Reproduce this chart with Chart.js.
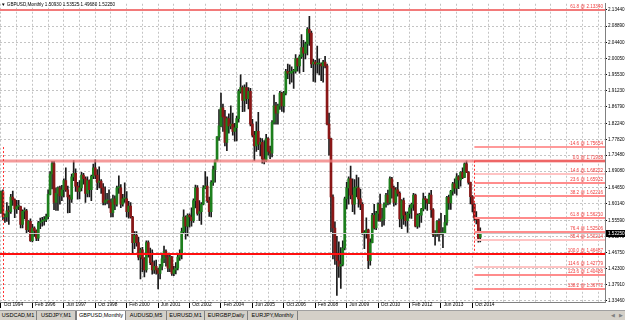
<!DOCTYPE html>
<html>
<head>
<meta charset="utf-8">
<title>GBPUSD,Monthly</title>
<script src="https://cdn.jsdelivr.net/npm/chart.js@4.4.1/dist/chart.umd.min.js"></script>
<style>
  body { margin: 0; background: #fff; width: 625px; height: 320px; overflow: hidden; font-family: "Liberation Sans", Arial, sans-serif; }
  #wrap { position: relative; width: 625px; height: 310px; }
  #tabs { position: relative; width: 625px; height: 10px; background: #d4d0c8; border-top: 1px solid #a0a0a0; box-sizing: border-box; }
  .tab { position: absolute; top: 0; height: 9px; line-height: 9px; text-align: center; font-size: 5.5px; color: #000; border-right: 1px solid #808080; box-sizing: border-box; white-space: nowrap; }
  .tab.on { background: #fff; border-left: 1px solid #808080; }
  .arr { position: absolute; top: 0; line-height: 9px; font-size: 5px; color: #808080; }
</style>
</head>
<body>
<div id="wrap"><canvas id="chart" width="625" height="310"></canvas></div>
<div id="tabs">
  <div class="tab" style="left:0;width:37px">USDCAD,M1</div>
  <div class="tab" style="left:37px;width:39px">USDJPY,M1</div>
  <div class="tab on" style="left:76px;width:50px">GBPUSD,Monthly</div>
  <div class="tab" style="left:126px;width:41px">AUDUSD,M5</div>
  <div class="tab" style="left:167px;width:38px">EURUSD,M1</div>
  <div class="tab" style="left:205px;width:43px">EURGBP,Daily</div>
  <div class="tab" style="left:248px;width:50px">EURJPY,Monthly</div>
  <div class="arr" style="left:611px">&#9664;</div>
  <div class="arr" style="left:619px">&#9654;</div>
</div>
<script>
// time axis: one label every 16 monthly bars, first bar = Oct 1994
const tickLabels = ['Oct 1994', 'Feb 1996', 'Jun 1997', 'Oct 1998', 'Feb 2000', 'Jun 2001', 'Oct 2002', 'Feb 2004',
    'Jun 2005', 'Oct 2006', 'Feb 2008', 'Jun 2009', 'Oct 2010', 'Feb 2012', 'Jun 2013', 'Oct 2014'];
const labelEvery = 16;
const gridEvery = 8;
const totalSlots = 308; // bars that fit in the window incl. the empty shift on the right

// price axis labels (right side)
const priceTicks = [2.13440, 2.08890, 2.04400, 2.00050, 1.95530, 1.91230, 1.86790, 1.82240, 1.77820, 1.73480,
    1.69080, 1.64650, 1.60140, 1.55590, 1.51170, 1.46750, 1.42300, 1.37910, 1.33460];

// monthly OHLC, Oct 1994 .. Feb 2015
const opens = [
    1.578, 1.634, 1.565,
    1.565, 1.582, 1.580, 1.620, 1.612, 1.587, 1.594, 1.594, 1.545, 1.581, 1.582, 1.530,
    1.553, 1.500, 1.535, 1.527, 1.507, 1.549, 1.552, 1.556, 1.557, 1.566, 1.627, 1.683,
    1.712, 1.605, 1.630, 1.645, 1.623, 1.640, 1.665, 1.640, 1.620, 1.614, 1.675, 1.685,
    1.650, 1.635, 1.645, 1.680, 1.670, 1.630, 1.665, 1.640, 1.677, 1.700, 1.680, 1.660,
    1.664, 1.645, 1.605, 1.610, 1.610, 1.605, 1.577, 1.615, 1.600, 1.645, 1.645, 1.600,
    1.615, 1.615, 1.580, 1.595, 1.565, 1.495, 1.515, 1.495, 1.455, 1.475, 1.450, 1.420,
    1.495, 1.465, 1.440, 1.420, 1.430, 1.420, 1.410, 1.430, 1.450, 1.470, 1.455, 1.425,
    1.455, 1.410, 1.420, 1.425, 1.455, 1.465, 1.525, 1.565, 1.540, 1.570, 1.565, 1.555,
    1.610, 1.645, 1.575, 1.580, 1.600, 1.645, 1.650, 1.610, 1.580, 1.660, 1.695, 1.720,
    1.785, 1.815, 1.865, 1.840, 1.770, 1.835, 1.815, 1.820, 1.800, 1.810, 1.835, 1.910,
    1.920, 1.885, 1.920, 1.890, 1.910, 1.820, 1.790, 1.760, 1.800, 1.765, 1.770, 1.725,
    1.720, 1.780, 1.745, 1.740, 1.825, 1.870, 1.850, 1.870, 1.905, 1.870, 1.905, 1.965,
    1.960, 1.960, 1.965, 1.965, 2.000, 1.980, 2.005, 2.030, 2.015, 2.040, 2.080, 2.070,
    1.985, 1.990, 1.985, 1.985, 1.985, 1.980, 1.990, 1.980, 1.820, 1.780, 1.620, 1.535,
    1.460, 1.445, 1.430, 1.435, 1.480, 1.615, 1.645, 1.670, 1.625, 1.600, 1.645, 1.645,
    1.615, 1.600, 1.520, 1.520, 1.530, 1.445, 1.495, 1.570, 1.535, 1.575, 1.600, 1.556,
    1.560, 1.600, 1.625, 1.605, 1.670, 1.645, 1.605, 1.640, 1.630, 1.560, 1.610, 1.570,
    1.555, 1.575, 1.590, 1.600, 1.625, 1.540, 1.570, 1.570, 1.587, 1.615, 1.613, 1.603,
    1.625, 1.585, 1.517, 1.520, 1.553, 1.519, 1.520, 1.522, 1.550, 1.619, 1.604, 1.636,
    1.656, 1.644, 1.675, 1.667, 1.688, 1.674, 1.711, 1.688, 1.660, 1.621, 1.600, 1.564,
    1.558, 1.50930
];
const highs = [
    1.637, 1.640, 1.574,
    1.605, 1.595, 1.627, 1.636, 1.615, 1.611, 1.611, 1.595, 1.585, 1.590, 1.586, 1.555,
    1.560, 1.545, 1.538, 1.530, 1.553, 1.562, 1.564, 1.566, 1.573, 1.640, 1.690, 1.718,
    1.718, 1.645, 1.648, 1.650, 1.652, 1.670, 1.700, 1.650, 1.625, 1.683, 1.720, 1.697,
    1.660, 1.665, 1.688, 1.685, 1.675, 1.675, 1.667, 1.680, 1.710, 1.722, 1.695, 1.703,
    1.668, 1.657, 1.648, 1.630, 1.640, 1.615, 1.625, 1.623, 1.650, 1.678, 1.654, 1.627,
    1.659, 1.635, 1.608, 1.605, 1.567, 1.525, 1.525, 1.510, 1.480, 1.482, 1.454, 1.500,
    1.500, 1.480, 1.475, 1.445, 1.447, 1.425, 1.435, 1.463, 1.485, 1.475, 1.465, 1.460,
    1.457, 1.430, 1.440, 1.463, 1.475, 1.535, 1.585, 1.568, 1.574, 1.574, 1.590, 1.615,
    1.653, 1.651, 1.610, 1.605, 1.651, 1.690, 1.675, 1.620, 1.665, 1.705, 1.722, 1.786,
    1.860, 1.905, 1.875, 1.858, 1.840, 1.848, 1.870, 1.850, 1.822, 1.842, 1.915, 1.955,
    1.925, 1.928, 1.934, 1.920, 1.918, 1.833, 1.800, 1.826, 1.852, 1.782, 1.780, 1.775,
    1.792, 1.783, 1.760, 1.830, 1.900, 1.880, 1.875, 1.910, 1.908, 1.910, 1.970, 1.985,
    1.983, 1.977, 1.970, 2.011, 2.001, 2.010, 2.066, 2.050, 2.045, 2.085, 2.116, 2.075,
    1.998, 1.995, 2.034, 1.999, 1.988, 1.995, 2.006, 1.985, 1.850, 1.782, 1.626, 1.552,
    1.512, 1.497, 1.481, 1.500, 1.620, 1.660, 1.675, 1.705, 1.670, 1.668, 1.680, 1.673,
    1.642, 1.605, 1.528, 1.563, 1.532, 1.505, 1.575, 1.600, 1.581, 1.604, 1.628, 1.589,
    1.604, 1.630, 1.639, 1.675, 1.674, 1.650, 1.646, 1.660, 1.634, 1.613, 1.617, 1.579,
    1.579, 1.598, 1.603, 1.630, 1.628, 1.574, 1.575, 1.589, 1.631, 1.622, 1.614, 1.631,
    1.638, 1.588, 1.528, 1.555, 1.560, 1.575, 1.536, 1.570, 1.622, 1.625, 1.638, 1.660,
    1.670, 1.684, 1.679, 1.690, 1.700, 1.714, 1.719, 1.690, 1.661, 1.624, 1.602, 1.580,
    1.560, 1.53525
];
const lows = [
    1.575, 1.557, 1.550,
    1.553, 1.545, 1.575, 1.597, 1.563, 1.575, 1.585, 1.535, 1.535, 1.560, 1.522, 1.525,
    1.498, 1.497, 1.512, 1.500, 1.500, 1.533, 1.540, 1.543, 1.552, 1.560, 1.626, 1.642,
    1.585, 1.583, 1.583, 1.600, 1.610, 1.620, 1.635, 1.576, 1.577, 1.605, 1.665, 1.635,
    1.614, 1.615, 1.637, 1.655, 1.605, 1.620, 1.620, 1.610, 1.670, 1.670, 1.640, 1.645,
    1.630, 1.598, 1.598, 1.601, 1.590, 1.565, 1.565, 1.585, 1.595, 1.630, 1.591, 1.595,
    1.605, 1.565, 1.562, 1.562, 1.467, 1.478, 1.485, 1.447, 1.395, 1.415, 1.401, 1.414,
    1.455, 1.434, 1.408, 1.410, 1.408, 1.368, 1.395, 1.420, 1.440, 1.430, 1.415, 1.415,
    1.405, 1.404, 1.409, 1.420, 1.446, 1.450, 1.520, 1.504, 1.513, 1.537, 1.540, 1.550,
    1.590, 1.570, 1.555, 1.545, 1.598, 1.643, 1.605, 1.567, 1.565, 1.652, 1.661, 1.718,
    1.775, 1.812, 1.800, 1.760, 1.747, 1.795, 1.807, 1.790, 1.773, 1.774, 1.825, 1.905,
    1.854, 1.855, 1.876, 1.862, 1.815, 1.785, 1.720, 1.745, 1.750, 1.733, 1.713, 1.711,
    1.717, 1.735, 1.725, 1.730, 1.820, 1.820, 1.820, 1.860, 1.855, 1.853, 1.900, 1.945,
    1.930, 1.935, 1.918, 1.960, 1.965, 1.960, 2.000, 1.964, 1.999, 2.010, 2.036, 1.975,
    1.937, 1.935, 1.960, 1.955, 1.939, 1.935, 1.974, 1.818, 1.735, 1.525, 1.450, 1.435,
    1.350, 1.399, 1.369, 1.431, 1.475, 1.587, 1.600, 1.615, 1.580, 1.573, 1.620, 1.592,
    1.585, 1.517, 1.478, 1.507, 1.423, 1.433, 1.494, 1.532, 1.530, 1.554, 1.553, 1.539,
    1.543, 1.592, 1.598, 1.600, 1.617, 1.595, 1.598, 1.622, 1.538, 1.533, 1.545, 1.540,
    1.523, 1.562, 1.561, 1.583, 1.538, 1.534, 1.537, 1.550, 1.582, 1.587, 1.583, 1.602,
    1.564, 1.511, 1.488, 1.512, 1.499, 1.516, 1.481, 1.520, 1.543, 1.586, 1.586, 1.625,
    1.630, 1.625, 1.643, 1.650, 1.670, 1.673, 1.687, 1.655, 1.601, 1.579, 1.556, 1.546,
    1.496, 1.49680
];
const closes = [
    1.634, 1.565, 1.565,
    1.582, 1.580, 1.620, 1.612, 1.587, 1.594, 1.594, 1.545, 1.581, 1.582, 1.530, 1.553,
    1.500, 1.535, 1.527, 1.507, 1.549, 1.552, 1.556, 1.557, 1.566, 1.627, 1.683, 1.712,
    1.605, 1.630, 1.645, 1.623, 1.640, 1.665, 1.640, 1.620, 1.614, 1.675, 1.685, 1.650,
    1.635, 1.645, 1.680, 1.670, 1.630, 1.665, 1.640, 1.677, 1.700, 1.680, 1.660, 1.664,
    1.645, 1.605, 1.610, 1.610, 1.605, 1.577, 1.615, 1.600, 1.645, 1.645, 1.600, 1.615,
    1.615, 1.580, 1.595, 1.565, 1.495, 1.515, 1.495, 1.455, 1.475, 1.450, 1.420, 1.495,
    1.465, 1.440, 1.420, 1.430, 1.420, 1.410, 1.430, 1.450, 1.470, 1.455, 1.425, 1.455,
    1.410, 1.420, 1.425, 1.455, 1.465, 1.525, 1.565, 1.540, 1.570, 1.565, 1.555, 1.610,
    1.645, 1.575, 1.580, 1.600, 1.645, 1.650, 1.610, 1.580, 1.660, 1.695, 1.720, 1.785,
    1.815, 1.865, 1.840, 1.770, 1.835, 1.815, 1.820, 1.800, 1.810, 1.835, 1.910, 1.920,
    1.885, 1.920, 1.890, 1.910, 1.820, 1.790, 1.760, 1.800, 1.765, 1.770, 1.725, 1.720,
    1.780, 1.745, 1.740, 1.825, 1.870, 1.850, 1.870, 1.905, 1.870, 1.905, 1.965, 1.960,
    1.960, 1.965, 1.965, 2.000, 1.980, 2.005, 2.030, 2.015, 2.040, 2.080, 2.070, 1.985,
    1.990, 1.985, 1.985, 1.985, 1.980, 1.990, 1.980, 1.820, 1.780, 1.620, 1.535, 1.460,
    1.445, 1.430, 1.435, 1.480, 1.615, 1.645, 1.670, 1.625, 1.600, 1.645, 1.645, 1.615,
    1.600, 1.520, 1.520, 1.530, 1.445, 1.495, 1.570, 1.535, 1.575, 1.600, 1.556, 1.560,
    1.600, 1.625, 1.605, 1.670, 1.645, 1.605, 1.640, 1.630, 1.560, 1.610, 1.570, 1.555,
    1.575, 1.590, 1.600, 1.625, 1.540, 1.570, 1.570, 1.587, 1.615, 1.613, 1.603, 1.625,
    1.585, 1.517, 1.520, 1.553, 1.519, 1.520, 1.522, 1.550, 1.619, 1.604, 1.636, 1.656,
    1.644, 1.675, 1.667, 1.688, 1.674, 1.711, 1.688, 1.660, 1.621, 1.600, 1.564, 1.558,
    1.506, 1.52250
];

// horizontal levels drawn across the whole window
const levelPrices = [2.13340, 1.71938, 1.46487];
const levelNames = ['61.8', '', ''];

// fibonacci expansion on the right, anchored at Nov 2014
const fibAnchor = 241;
const fibRatios = ['-14.6', '0.0', '14.6', '23.6', '38.2', '61.8', '76.4', '85.4', '100.0', '114.6', '123.6', '138.2'];
const fibPrices = [1.75654, 1.71938, 1.68222, 1.65932, 1.62216, 1.56210, 1.52506, 1.50214, 1.46487, 1.42779, 1.40488, 1.36772];

// older fibonacci anchor (dotted line at the left edge)
const oldAnchor = 1;
const oldAnchorRange = [1.757, 1.337];

const symbolName = 'GBPUSD,Monthly';

// styles
const bullColor = '#1d7f1d';
const bearColor = '#8a1717';
const wickColor = '#1a1a1a';
const gridColor = '#c4c4c4';
const levelStyles = [
    { color: '#f27a7a', width: 2 },
    { color: 'rgba(240,120,120,0.75)', width: 3 },
    { color: '#ff1010', width: 2 }
];
const fibColors = ['#ff9a9a', '#e83030', '#ffc4c4', '#ff8c8c', '#ff8c8c', '#ff8c8c',
    '#ff8c8c', '#ffc4c4', '#ff1a1a', '#ffc4c4', '#ff8c8c', '#ff8c8c'];
const smallFont = '4.6px "Liberation Sans", Arial, sans-serif';

const idx = opens.map((_, i) => i);
const last = opens.length - 1;

function isLabelled(v) {
    return v % labelEvery === 0 && v / labelEvery < tickLabels.length;
}

const overlays = {
    id: 'overlays',
    afterDatasetsDraw(chart) {
        const { ctx, chartArea: area, scales: { x, y } } = chart;
        ctx.save();
        ctx.beginPath();
        ctx.rect(area.left, area.top, area.right - area.left, area.bottom - area.top);
        ctx.clip();

        // bid line
        const bidY = Math.round(y.getPixelForValue(closes[last])) + 0.5;
        ctx.strokeStyle = '#c8c8c8';
        ctx.lineWidth = 1;
        ctx.beginPath();
        ctx.moveTo(area.left, bidY);
        ctx.lineTo(area.right, bidY);
        ctx.stroke();

        ctx.font = smallFont;
        ctx.textAlign = 'right';
        ctx.textBaseline = 'bottom';

        // fib levels
        const fx = x.getPixelForValue(fibAnchor);
        fibPrices.forEach((p, i) => {
            const py = Math.round(y.getPixelForValue(p));
            ctx.strokeStyle = fibColors[i];
            ctx.lineWidth = 2;
            ctx.beginPath();
            ctx.moveTo(fx, py);
            ctx.lineTo(area.right, py);
            ctx.stroke();
        });

        // full width levels
        levelPrices.forEach((p, i) => {
            const py = Math.round(y.getPixelForValue(p));
            ctx.strokeStyle = levelStyles[i].color;
            ctx.lineWidth = levelStyles[i].width;
            ctx.beginPath();
            ctx.moveTo(area.left, py);
            ctx.lineTo(area.right, py);
            ctx.stroke();
        });

        // dotted anchor lines
        ctx.setLineDash([2, 2]);
        ctx.strokeStyle = '#ff3030';
        ctx.lineWidth = 1;
        const ax = Math.round(fx) + 0.5;
        ctx.beginPath();
        ctx.moveTo(ax, y.getPixelForValue(fibPrices[1]));
        ctx.lineTo(ax, y.getPixelForValue(fibPrices[8]));
        const ox = Math.round(x.getPixelForValue(oldAnchor)) + 0.5;
        ctx.moveTo(ox, y.getPixelForValue(oldAnchorRange[0]));
        ctx.lineTo(ox, y.getPixelForValue(oldAnchorRange[1]));
        ctx.stroke();
        ctx.setLineDash([]);

        // level texts
        ctx.fillStyle = '#f03c3c';
        fibPrices.forEach((p, i) => {
            const py = Math.round(y.getPixelForValue(p));
            ctx.fillText(fibRatios[i] + ' @ ' + p.toFixed(5), area.right - 2, py - 1);
        });
        levelPrices.forEach((p, i) => {
            if (!levelNames[i]) return;
            const py = Math.round(y.getPixelForValue(p));
            ctx.fillText(levelNames[i] + ' @ ' + p.toFixed(5), area.right - 2, py - 1);
        });
        ctx.restore();
    },
    afterDraw(chart) {
        const { ctx, chartArea: area, scales: { y } } = chart;
        ctx.save();
        // title line top left
        ctx.font = smallFont;
        ctx.fillStyle = '#000';
        ctx.textAlign = 'left';
        ctx.textBaseline = 'middle';
        const head = [opens[last], highs[last], lows[last], closes[last]].map(v => v.toFixed(5)).join(' ');
        ctx.fillText('\u25BC ' + symbolName + ' ' + head, 1, 5);

        // current price box on the price scale
        const py = Math.round(y.getPixelForValue(closes[last]));
        ctx.fillStyle = '#000';
        ctx.fillRect(area.right + 1, py - 3, 20, 7);
        ctx.fillStyle = '#fff';
        ctx.fillText(closes[last].toFixed(5), area.right + 3, py + 0.5);
        ctx.restore();
    }
};

Chart.defaults.font.family = '"Liberation Sans", Arial, sans-serif';
Chart.defaults.color = '#000';

new Chart(document.getElementById('chart'), {
    type: 'bar',
    data: {
        datasets: [
            {
                label: 'wick',
                data: idx.map(i => ({ x: i, y: [lows[i], highs[i]] })),
                backgroundColor: wickColor,
                barThickness: 1,
                grouped: false,
                order: 2
            },
            {
                label: 'body',
                data: idx.map(i => ({ x: i, y: [opens[i], closes[i]] })),
                backgroundColor: idx.map(i => closes[i] >= opens[i] ? bullColor : bearColor),
                barThickness: 2,
                minBarLength: 1,
                grouped: false,
                order: 1
            }
        ]
    },
    options: {
        responsive: false,
        animation: false,
        devicePixelRatio: 1,
        layout: { padding: 0 },
        plugins: { legend: { display: false }, tooltip: { enabled: false } },
        scales: {
            x: {
                type: 'linear',
                min: -0.5,
                max: totalSlots - 0.5,
                offset: false,
                afterBuildTicks: s => {
                    const t = [];
                    for (let v = 0; v < totalSlots; v += gridEvery) t.push({ value: v });
                    s.ticks = t;
                },
                afterFit: s => { s.height = 8; },
                grid: {
                    offset: false,
                    color: gridColor,
                    tickLength: 6,
                    tickColor: c => (c.tick && isLabelled(c.tick.value)) ? '#000' : 'rgba(0,0,0,0)',
                    tickBorderDash: []
                },
                border: { color: '#808080', dash: [2, 2] },
                ticks: {
                    autoSkip: false,
                    maxRotation: 0,
                    minRotation: 0,
                    align: 'start',
                    padding: -6,
                    font: { size: 4.8 },
                    callback: v => isLabelled(v) ? '  ' + tickLabels[v / labelEvery] : ''
                }
            },
            y: {
                type: 'linear',
                position: 'right',
                min: 1.33185,
                max: 2.15027,
                beginAtZero: false,
                afterBuildTicks: s => { s.ticks = priceTicks.map(v => ({ value: v })); },
                afterFit: s => { s.width = 20; },
                grid: {
                    color: gridColor,
                    tickLength: 2,
                    tickColor: '#000',
                    tickBorderDash: []
                },
                border: { color: '#808080', dash: [2, 2] },
                ticks: {
                    padding: 1,
                    font: { size: 4.6 },
                    callback: v => v.toFixed(5)
                }
            }
        }
    },
    plugins: [overlays]
});
</script>
</body>
</html>
